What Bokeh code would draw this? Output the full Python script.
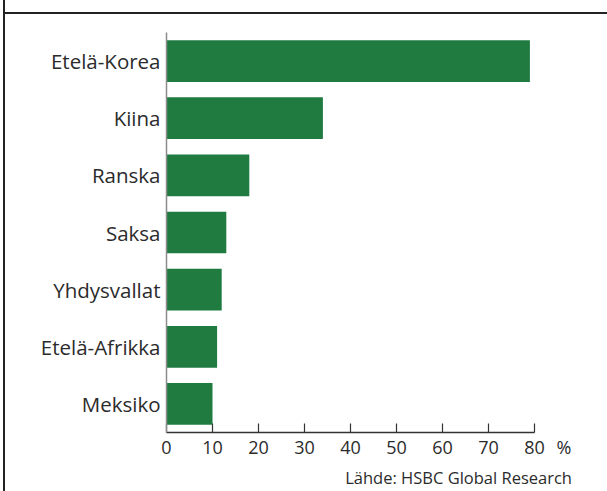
from bokeh.plotting import figure
from bokeh.models import FactorRange, Range1d, FixedTicker, LinearAxis, Div
from bokeh.layouts import column
from bokeh.embed import file_html
from bokeh.resources import INLINE

countries = ["Etelä-Korea", "Kiina", "Ranska", "Saksa", "Yhdysvallat", "Etelä-Afrikka", "Meksiko"]
values = [79, 34, 18, 13, 12, 11, 10]
x_ticks = [0, 10, 20, 30, 40, 50, 60, 70, 80]
unit_label = "%"
unit_label_at = 86.4          # where the "%" sits along the value axis
source_text = "Lähde: HSBC Global Research"
source_text_at = 63.5         # centre of the source note along the value axis

FONT = "Open Sans"
TEXT = "#2b2b2b"
GREEN = "#1f7b40"

p = figure(
    width=602, height=477,
    y_range=FactorRange(factors=list(reversed(countries)), range_padding=0),
    x_range=Range1d(0, 95),
    output_backend="svg", toolbar_location=None,
    min_border_left=161, min_border_right=4, min_border_top=18, min_border_bottom=58,
    margin=0,
)
p.hbar(y=countries, right=values, left=0, height=0.73, color=GREEN, line_color=None)

p.outline_line_color = None
p.xgrid.grid_line_color = None
p.ygrid.grid_line_color = None
p.background_fill_color = "white"
p.border_fill_color = "white"

# axis A: line and inward ticks only
xa = p.xaxis[0]
xa.ticker = FixedTicker(ticks=x_ticks)
xa.bounds = (x_ticks[0], x_ticks[-1])
xa.axis_line_color = "#333333"
xa.axis_line_width = 1.5
xa.major_tick_line_color = "#333333"
xa.major_tick_line_width = 1.2
xa.major_tick_in = 9
xa.major_tick_out = 0
xa.minor_tick_line_color = None
xa.major_label_standoff = 0
xa.major_label_text_font_size = "0px"
xa.major_label_text_color = None

# axis B: tick numbers and the unit
xb = LinearAxis(ticker=FixedTicker(ticks=x_ticks + [unit_label_at]),
                major_label_overrides={unit_label_at: unit_label})
xb.axis_line_color = None
xb.major_tick_line_color = None
xb.minor_tick_line_color = None
xb.major_tick_in = 0
xb.major_tick_out = 0
xb.major_label_standoff = 2
xb.major_label_text_font = FONT
xb.major_label_text_font_size = "18px"
xb.major_label_text_color = TEXT
p.add_layout(xb, "below")

# axis C: source note
xc = LinearAxis(ticker=FixedTicker(ticks=[source_text_at]),
                major_label_overrides={source_text_at: source_text})
xc.axis_line_color = None
xc.major_tick_line_color = None
xc.minor_tick_line_color = None
xc.major_tick_in = 0
xc.major_tick_out = 0
xc.major_label_standoff = 4
xc.major_label_text_font = FONT
xc.major_label_text_font_size = "16.5px"
xc.major_label_text_color = TEXT
p.add_layout(xc, "below")

ya = p.yaxis[0]
ya.axis_line_color = "#8c8c8c"
ya.axis_line_width = 1.5
ya.major_tick_line_color = None
ya.minor_tick_line_color = None
ya.major_tick_in = 0
ya.major_tick_out = 0
ya.major_label_standoff = 6
ya.major_label_text_font = FONT
ya.major_label_text_font_size = "20.5px"
ya.major_label_text_color = TEXT

top = Div(text="", width=602, height=12, margin=0,
          styles={"border-bottom": "2px solid #222222", "box-sizing": "content-box"})
layout = column(top, p, margin=(0, 0, 0, 3), spacing=0,
                styles={"border-left": "2px solid #222222"})

open("out.html", "w").write(file_html(layout, INLINE))
